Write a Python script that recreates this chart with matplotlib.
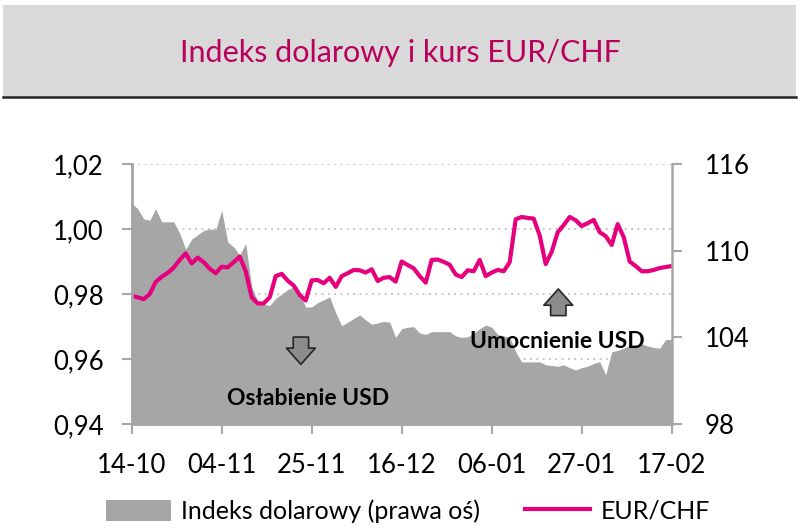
import numpy as np
import pandas as pd
import matplotlib
matplotlib.use('Agg')
import matplotlib.pyplot as plt
from matplotlib.patches import Patch, Rectangle
from matplotlib.lines import Line2D

# business days 14-10-2019 .. 17-02-2020
dates = pd.bdate_range('2019-10-14', '2020-02-17')

eurchf = [0.9794, 0.9790, 0.9784, 0.9800, 0.9837, 0.9853, 0.9865, 0.9881, 0.9905, 0.9925,
          0.9894, 0.9912, 0.9898, 0.9878, 0.9864, 0.9884, 0.9882, 0.9898, 0.9915, 0.9870,
          0.9790, 0.9771, 0.9771, 0.9790, 0.9855, 0.9862, 0.9841, 0.9826, 0.9797, 0.9780,
          0.9842, 0.9843, 0.9833, 0.9850, 0.9822, 0.9855, 0.9864, 0.9874, 0.9873, 0.9866,
          0.9876, 0.9840, 0.9850, 0.9852, 0.9838, 0.9900, 0.9889, 0.9879, 0.9855, 0.9835,
          0.9905, 0.9906, 0.9899, 0.9890, 0.9860, 0.9852, 0.9873, 0.9870, 0.9905, 0.9855,
          0.9866, 0.9874, 0.9870, 0.9898, 1.0030, 1.0037, 1.0034, 1.0032, 0.9980, 0.9892,
          0.9930, 0.9990, 1.0012, 1.0037, 1.0027, 1.0009, 1.0018, 1.0028, 0.9990, 0.9978,
          0.9951, 1.0015, 0.9975, 0.9900, 0.9886, 0.9870, 0.9870, 0.9874, 0.9880, 0.9883,
          0.9886]

dxy = [113.3, 112.9, 112.2, 112.1, 112.9, 112.0, 112.0, 112.0, 111.2, 110.1,
       110.8, 111.1, 111.4, 111.5, 111.45, 112.8, 110.6, 110.25, 109.7, 110.5,
       107.5, 106.5, 106.3, 106.2, 106.7, 107.0, 107.3, 107.5, 107.0, 106.1,
       106.1, 106.4, 106.6, 106.8, 105.7, 104.8, 105.05, 105.3, 105.55, 105.2,
       104.9, 105.0, 105.1, 105.05, 104.0, 104.6, 104.7, 104.74, 104.3, 104.2,
       104.39, 104.39, 104.39, 104.4, 104.1, 104.0, 104.04, 104.3, 104.6, 104.85,
       104.7, 104.2, 104.1, 104.0, 103.0, 102.3, 102.3, 102.3, 102.3, 102.1,
       102.05, 102.0, 102.1, 101.9, 101.74, 101.9, 102.0, 102.2, 102.31, 101.4,
       103.0, 103.1, 103.25, 103.45, 103.5, 103.55, 103.4, 103.3, 103.25, 103.85,
       103.85]

left_ticks = [0.94, 0.96, 0.98, 1.00, 1.02]
right_ticks = [98, 104, 110, 116]
tick_every = 15

title = 'Indeks dolarowy i kurs EUR/CHF'
pink = '#e5007d'
grey_area = '#a6a6a6'
axis_grey = '#a6a6a6'

plt.rcParams['font.family'] = ['Lato', 'DejaVu Sans']

fig = plt.figure(figsize=(8, 5.32), dpi=100)

# title box
fig.patches.append(Rectangle((3 / 800, 1 - 97 / 532), 793 / 800, 92 / 532,
                             transform=fig.transFigure, fc='#d9d9d9', ec='none', zorder=0))
fig.lines.append(Line2D([3 / 800, 796 / 800], [1 - 97 / 532] * 2, transform=fig.transFigure,
                        color='#262626', lw=1.8))
fig.text(0.5, 1 - 53 / 532, title, ha='center', va='center', color='#b8005c', fontsize=22)

ax = fig.add_axes([131.7 / 800, 1 - 424 / 532, 540 / 800, 260 / 532])
ax2 = ax.twinx()

x = np.arange(len(dates))
ax2.set_ylim(98, 116)
ax.set_ylim(0.94, 1.02)
ax.set_xlim(0, len(dates) - 1)

# area drawn in ax (above grid) but with the right-axis scale
ax.fill_between(x, 98, dxy, transform=ax2.transData, color=grey_area, lw=0, zorder=1)
ax.plot(x, eurchf, color=pink, lw=3, zorder=3, solid_joinstyle='round')

ax.set_yticks(left_ticks)
ax.set_yticklabels([f'{v:.2f}'.replace('.', ',') for v in left_ticks])
ax2.set_yticks(right_ticks)
ax2.set_yticklabels([str(v) for v in right_ticks])
xt = x[::tick_every]
ax.set_xticks(xt)
ax.set_xticklabels([dates[i].strftime('%d-%m') for i in xt])

ax.set_axisbelow(True)
ax.yaxis.grid(True, color='#bfbfbf', linestyle=(0, (1, 2.5)), lw=1.3)

for a in (ax, ax2):
    a.spines['top'].set_visible(False)
    for s in ('left', 'right', 'bottom'):
        a.spines[s].set_color(axis_grey)
        a.spines[s].set_linewidth(1.8)
    a.tick_params(colors=axis_grey, labelcolor='black', labelsize=18.5, width=1.5, length=7)
ax.spines['right'].set_visible(False)
ax.tick_params(axis='y', pad=13)
ax.tick_params(axis='x', pad=14)
ax2.tick_params(axis='y', pad=17)

# annotations
arrow_kw = dict(arrowstyle='simple,head_length=0.9,head_width=1.6,tail_width=0.85',
                fc='#8c8c8c', ec='#262626', lw=1.2, mutation_scale=13)
ax.annotate('', xy=(28.2, 0.9575), xytext=(28.2, 0.9676), arrowprops=arrow_kw)
ax.annotate('', xy=(71.1, 0.9824), xytext=(71.1, 0.9725), arrowprops=arrow_kw)
ax.text(29.4, 0.9477, 'Osłabienie USD', ha='center', va='center', fontsize=16.5,
        fontweight='bold', zorder=5)
ax.text(71.0, 0.9655, 'Umocnienie USD', ha='center', va='center', fontsize=16.5,
        fontweight='bold', zorder=5)

handles = [Patch(fc=grey_area, ec='none'), Line2D([], [], color=pink, lw=3)]
fig.legend(handles, ['Indeks dolarowy (prawa oś)', 'EUR/CHF'], loc='center',
           bbox_to_anchor=(0.51, 1 - 511 / 532), ncol=2, frameon=False, fontsize=18,
           handlelength=2.6, handleheight=0.9, columnspacing=1.8, handletextpad=0.4)

fig.savefig('out.png', dpi=100)
